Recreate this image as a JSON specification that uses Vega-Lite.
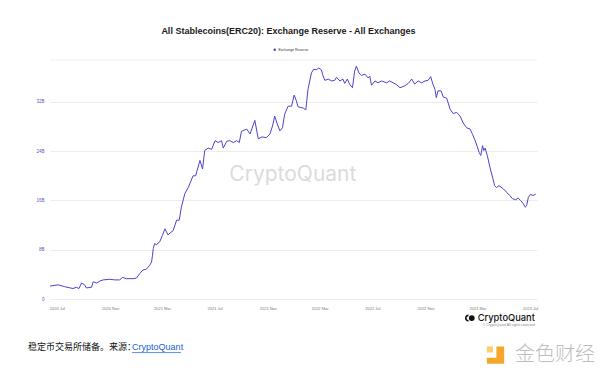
{
  "$schema": "https://vega.github.io/schema/vega-lite/v6.json",
  "autosize": "none",
  "width": 487,
  "height": 239,
  "padding": {"left": 50, "top": 60, "right": 63, "bottom": 81},
  "background": "white",
  "config": {"view": {"stroke": null}, "font": "Liberation Sans", "axisX": {"labelOverlap": false, "labelBound": false}},
  "title": {"text": "All Stablecoins(ERC20): Exchange Reserve - All Exchanges", "fontSize": 9, "fontWeight": "bold", "color": "#1a1a1a", "anchor": "middle", "offset": 12, "dx": -5},
  "datasets": {
    "one": [{"k": 1}],
    "series": [
      {"date": "2020-06-15", "v": 2.1}, {"date": "2020-07-04", "v": 2.3}, {"date": "2020-07-19", "v": 2.0},
      {"date": "2020-08-07", "v": 1.7}, {"date": "2020-08-15", "v": 1.9}, {"date": "2020-08-21", "v": 1.7},
      {"date": "2020-08-27", "v": 2.6}, {"date": "2020-09-03", "v": 2.3}, {"date": "2020-09-07", "v": 1.8},
      {"date": "2020-09-19", "v": 1.9}, {"date": "2020-09-23", "v": 2.8}, {"date": "2020-10-01", "v": 2.6},
      {"date": "2020-10-08", "v": 2.9}, {"date": "2020-10-16", "v": 3.1}, {"date": "2020-10-31", "v": 3.2},
      {"date": "2020-11-12", "v": 3.1}, {"date": "2020-11-23", "v": 3.1}, {"date": "2020-11-30", "v": 3.5},
      {"date": "2020-12-09", "v": 3.3}, {"date": "2020-12-24", "v": 3.3}, {"date": "2021-01-01", "v": 3.4},
      {"date": "2021-01-09", "v": 4.15}, {"date": "2021-01-16", "v": 4.7}, {"date": "2021-01-24", "v": 4.85},
      {"date": "2021-02-01", "v": 5.5}, {"date": "2021-02-05", "v": 6.0}, {"date": "2021-02-07", "v": 7.0},
      {"date": "2021-02-09", "v": 8.2}, {"date": "2021-02-12", "v": 9.0}, {"date": "2021-02-16", "v": 8.8},
      {"date": "2021-02-24", "v": 9.3}, {"date": "2021-03-02", "v": 10.3}, {"date": "2021-03-08", "v": 11.4},
      {"date": "2021-03-15", "v": 10.4}, {"date": "2021-03-23", "v": 10.9}, {"date": "2021-03-27", "v": 11.1},
      {"date": "2021-04-04", "v": 12.8}, {"date": "2021-04-10", "v": 12.8}, {"date": "2021-04-15", "v": 14.9},
      {"date": "2021-04-23", "v": 17.1}, {"date": "2021-05-01", "v": 18.1}, {"date": "2021-05-12", "v": 20.0},
      {"date": "2021-05-18", "v": 20.0}, {"date": "2021-05-28", "v": 22.5}, {"date": "2021-06-03", "v": 21.1},
      {"date": "2021-06-08", "v": 24.1}, {"date": "2021-06-16", "v": 24.5}, {"date": "2021-06-24", "v": 24.3},
      {"date": "2021-07-02", "v": 25.7}, {"date": "2021-07-09", "v": 25.4}, {"date": "2021-07-17", "v": 25.7},
      {"date": "2021-07-21", "v": 24.5}, {"date": "2021-07-29", "v": 25.6}, {"date": "2021-08-05", "v": 25.7},
      {"date": "2021-08-13", "v": 25.4}, {"date": "2021-08-21", "v": 25.7}, {"date": "2021-08-27", "v": 25.4},
      {"date": "2021-09-01", "v": 27.2}, {"date": "2021-09-13", "v": 27.6}, {"date": "2021-09-21", "v": 26.8},
      {"date": "2021-10-02", "v": 29.0}, {"date": "2021-10-10", "v": 26.0}, {"date": "2021-10-18", "v": 26.3},
      {"date": "2021-10-29", "v": 26.2}, {"date": "2021-11-06", "v": 26.8}, {"date": "2021-11-12", "v": 28.1},
      {"date": "2021-11-17", "v": 29.7}, {"date": "2021-11-23", "v": 28.4}, {"date": "2021-11-29", "v": 27.3},
      {"date": "2021-12-05", "v": 27.8}, {"date": "2021-12-10", "v": 30.0}, {"date": "2021-12-18", "v": 31.3},
      {"date": "2021-12-26", "v": 31.3}, {"date": "2022-01-01", "v": 33.1}, {"date": "2022-01-06", "v": 32.2},
      {"date": "2022-01-10", "v": 31.2}, {"date": "2022-01-22", "v": 31.0}, {"date": "2022-01-28", "v": 30.7},
      {"date": "2022-02-02", "v": 34.0}, {"date": "2022-02-10", "v": 36.7}, {"date": "2022-02-15", "v": 37.3},
      {"date": "2022-02-21", "v": 37.2}, {"date": "2022-02-27", "v": 37.5}, {"date": "2022-03-05", "v": 37.2},
      {"date": "2022-03-09", "v": 36.2}, {"date": "2022-03-13", "v": 35.5}, {"date": "2022-03-21", "v": 35.7},
      {"date": "2022-03-29", "v": 35.4}, {"date": "2022-04-05", "v": 35.5}, {"date": "2022-04-09", "v": 36.0},
      {"date": "2022-04-17", "v": 35.4}, {"date": "2022-04-24", "v": 35.7}, {"date": "2022-04-28", "v": 35.0},
      {"date": "2022-05-04", "v": 35.7}, {"date": "2022-05-10", "v": 34.8}, {"date": "2022-05-16", "v": 34.3},
      {"date": "2022-05-21", "v": 37.0}, {"date": "2022-05-25", "v": 37.8}, {"date": "2022-05-31", "v": 36.7},
      {"date": "2022-06-06", "v": 36.3}, {"date": "2022-06-14", "v": 36.5}, {"date": "2022-06-21", "v": 35.9},
      {"date": "2022-06-25", "v": 36.2}, {"date": "2022-06-29", "v": 34.7}, {"date": "2022-07-07", "v": 35.4},
      {"date": "2022-07-14", "v": 35.1}, {"date": "2022-07-22", "v": 35.4}, {"date": "2022-08-03", "v": 35.1},
      {"date": "2022-08-10", "v": 35.4}, {"date": "2022-08-18", "v": 35.1}, {"date": "2022-08-26", "v": 34.8},
      {"date": "2022-09-03", "v": 34.3}, {"date": "2022-09-14", "v": 34.6}, {"date": "2022-09-22", "v": 35.0},
      {"date": "2022-09-30", "v": 35.7}, {"date": "2022-10-07", "v": 34.9}, {"date": "2022-10-15", "v": 35.4},
      {"date": "2022-10-23", "v": 35.1}, {"date": "2022-10-31", "v": 35.4}, {"date": "2022-11-07", "v": 35.5},
      {"date": "2022-11-13", "v": 36.1}, {"date": "2022-11-18", "v": 34.9}, {"date": "2022-11-23", "v": 34.0},
      {"date": "2022-11-26", "v": 32.7}, {"date": "2022-11-30", "v": 33.8}, {"date": "2022-12-07", "v": 33.8},
      {"date": "2022-12-12", "v": 32.8}, {"date": "2022-12-20", "v": 32.6}, {"date": "2022-12-28", "v": 30.8},
      {"date": "2023-01-04", "v": 30.1}, {"date": "2023-01-12", "v": 30.3}, {"date": "2023-01-20", "v": 29.7},
      {"date": "2023-01-27", "v": 28.6}, {"date": "2023-02-04", "v": 27.8}, {"date": "2023-02-12", "v": 27.6},
      {"date": "2023-02-18", "v": 26.7}, {"date": "2023-02-24", "v": 25.7}, {"date": "2023-03-01", "v": 24.7},
      {"date": "2023-03-05", "v": 23.8}, {"date": "2023-03-09", "v": 23.3}, {"date": "2023-03-13", "v": 24.9},
      {"date": "2023-03-16", "v": 24.1}, {"date": "2023-03-19", "v": 24.5}, {"date": "2023-03-24", "v": 23.3},
      {"date": "2023-03-30", "v": 21.4}, {"date": "2023-04-05", "v": 19.8}, {"date": "2023-04-10", "v": 18.4},
      {"date": "2023-04-14", "v": 18.1}, {"date": "2023-04-20", "v": 18.4}, {"date": "2023-04-30", "v": 17.9},
      {"date": "2023-05-08", "v": 17.3}, {"date": "2023-05-15", "v": 16.8}, {"date": "2023-05-21", "v": 16.3},
      {"date": "2023-05-29", "v": 16.1}, {"date": "2023-06-03", "v": 16.4}, {"date": "2023-06-09", "v": 16.0},
      {"date": "2023-06-15", "v": 15.5}, {"date": "2023-06-20", "v": 14.9}, {"date": "2023-06-23", "v": 15.2},
      {"date": "2023-06-27", "v": 16.5}, {"date": "2023-07-02", "v": 17.0}, {"date": "2023-07-08", "v": 16.8},
      {"date": "2023-07-14", "v": 17.0}
    ]
  },
  "layer": [
    {
      "data": {"name": "series"},
      "mark": {"type": "line", "strokeWidth": 1, "interpolate": "linear"},
      "encoding": {
        "x": {
          "field": "date", "type": "temporal",
          "scale": {"type": "utc", "domain": [{"year": 2020, "month": 6, "date": 15, "utc": true}, {"year": 2023, "month": 7, "date": 17, "utc": true}]},
          "axis": {
            "title": null, "format": "%Y %b", "domain": false, "ticks": false, "grid": false, "labelOverlap": false,
            "labelFontSize": 4, "labelColor": "#777", "labelPadding": 7,
            "values": [
              {"year": 2020, "month": 7, "date": 1, "utc": true}, {"year": 2020, "month": 9, "date": 1, "utc": true},
              {"year": 2020, "month": 11, "date": 1, "utc": true}, {"year": 2021, "month": 1, "date": 1, "utc": true},
              {"year": 2021, "month": 3, "date": 1, "utc": true}, {"year": 2021, "month": 5, "date": 1, "utc": true},
              {"year": 2021, "month": 7, "date": 1, "utc": true}, {"year": 2021, "month": 9, "date": 1, "utc": true},
              {"year": 2021, "month": 11, "date": 1, "utc": true}, {"year": 2022, "month": 1, "date": 1, "utc": true},
              {"year": 2022, "month": 3, "date": 1, "utc": true}, {"year": 2022, "month": 5, "date": 1, "utc": true},
              {"year": 2022, "month": 7, "date": 1, "utc": true}, {"year": 2022, "month": 9, "date": 1, "utc": true},
              {"year": 2022, "month": 11, "date": 1, "utc": true}, {"year": 2023, "month": 1, "date": 1, "utc": true},
              {"year": 2023, "month": 3, "date": 1, "utc": true}, {"year": 2023, "month": 5, "date": 1, "utc": true},
              {"year": 2023, "month": 7, "date": 1, "utc": true}
            ]
          }
        },
        "y": {
          "field": "v", "type": "quantitative",
          "scale": {"domain": [0, 38.8], "nice": false, "zero": true},
          "axis": {
            "title": null, "values": [0, 8, 16, 24, 32], "domain": false, "ticks": false,
            "gridColor": "#ececec", "gridWidth": 1, "labelFontSize": 4.5, "labelColor": "#5b55c9", "labelPadding": 6,
            "labelExpr": "datum.value == 0 ? '0' : datum.value + 'B'"
          }
        },
        "color": {"datum": "Exchange Reserve", "scale": {"range": ["#4b44cc"]},
          "legend": {"title": null, "orient": "none", "legendX": 223, "legendY": -12, "symbolType": "circle", "symbolSize": 6, "labelFontSize": 3.5, "labelColor": "#333", "labelOffset": 2, "symbolStrokeWidth": 0, "symbolFillColor": "#4b44cc"}}
      }
    },
    {
      "data": {"name": "one"},
      "mark": {"type": "rule", "color": "#efefef", "strokeWidth": 1},
      "encoding": {"x": {"datum": {"year": 2020, "month": 6, "date": 15, "utc": true}, "type": "temporal", "axis": {"labelOverlap": false}}, "x2": {"datum": {"year": 2023, "month": 7, "date": 17, "utc": true}}, "y": {"datum": 38.8, "type": "quantitative"}}
    },
    {
      "data": {"name": "one"},
      "mark": {"type": "text", "text": "CryptoQuant", "font": "Inter", "fontSize": 21, "fontWeight": 400, "color": "#dcdcdc", "align": "center", "baseline": "middle"},
      "encoding": {"x": {"datum": {"year": 2021, "month": 12, "date": 29, "utc": true}, "type": "temporal", "axis": {"labelOverlap": false}}, "y": {"datum": 20.1, "type": "quantitative"}}
    },
    {
      "data": {"name": "one"},
      "mark": {"type": "text", "text": "CryptoQuant", "font": "Inter", "fontSize": 9.3, "fontWeight": 500, "color": "#111", "align": "right", "baseline": "middle", "clip": false},
      "encoding": {"x": {"datum": {"year": 2023, "month": 7, "date": 12, "utc": true}, "type": "temporal", "axis": {"labelOverlap": false}}, "y": {"datum": -3.1, "type": "quantitative"}}
    },
    {
      "data": {"name": "one"},
      "mark": {"type": "point", "shape": "circle", "filled": true, "size": 34, "color": "#111", "clip": false, "opacity": 1},
      "encoding": {"x": {"datum": {"year": 2023, "month": 2, "date": 16, "utc": true}, "type": "temporal", "axis": {"labelOverlap": false}}, "y": {"datum": -3.1, "type": "quantitative"}}
    },
    {
      "data": {"name": "one"},
      "mark": {"type": "point", "shape": "M0.3,-1A1,1 0 0 0 0.3,1L0.3,0.55A0.55,0.55 0 0 1 0.3,-0.55Z", "filled": true, "size": 50, "color": "#111", "clip": false, "opacity": 1},
      "encoding": {"x": {"datum": {"year": 2023, "month": 2, "date": 6, "utc": true}, "type": "temporal", "axis": {"labelOverlap": false}}, "y": {"datum": -3.1, "type": "quantitative"}}
    },
    {
      "data": {"name": "one"},
      "mark": {"type": "text", "text": "© CryptoQuant All rights reserved", "fontSize": 3.5, "color": "#888", "align": "right", "baseline": "middle", "clip": false},
      "encoding": {"x": {"datum": {"year": 2023, "month": 7, "date": 12, "utc": true}, "type": "temporal", "axis": {"labelOverlap": false}}, "y": {"datum": -4.3, "type": "quantitative"}}
    },
    {
      "data": {"name": "one"},
      "mark": {"type": "text", "text": "稳定币交易所储备。来源：", "font": "Noto Sans CJK SC", "fontSize": 9, "color": "#111", "align": "left", "baseline": "middle", "clip": false},
      "encoding": {"x": {"datum": {"year": 2020, "month": 4, "date": 25, "utc": true}, "type": "temporal", "axis": {"labelOverlap": false}}, "y": {"datum": -7.8, "type": "quantitative"}}
    },
    {
      "data": {"name": "one"},
      "mark": {"type": "text", "text": "CryptoQuant", "font": "Liberation Sans", "fontSize": 9, "color": "#1d5fd0", "align": "left", "baseline": "middle", "clip": false},
      "encoding": {"x": {"datum": {"year": 2020, "month": 12, "date": 22, "utc": true}, "type": "temporal", "axis": {"labelOverlap": false}}, "y": {"datum": -7.8, "type": "quantitative"}}
    },
    {
      "data": {"name": "one"},
      "mark": {"type": "rule", "color": "#1d5fd0", "strokeWidth": 0.7, "clip": false},
      "encoding": {"x": {"datum": {"year": 2020, "month": 12, "date": 22, "utc": true}, "type": "temporal", "axis": {"labelOverlap": false}}, "x2": {"datum": {"year": 2021, "month": 4, "date": 14, "utc": true}}, "y": {"datum": -8.7, "type": "quantitative"}}
    },
    {
      "data": {"name": "one"},
      "mark": {"type": "text", "text": "金色财经", "font": "Noto Sans CJK SC", "fontSize": 20, "fontWeight": 300, "color": "#bdbdbd", "align": "right", "baseline": "middle", "clip": false},
      "encoding": {"x": {"datum": {"year": 2023, "month": 11, "date": 28, "utc": true}, "type": "temporal", "axis": {"labelOverlap": false}}, "y": {"datum": -9.1, "type": "quantitative"}}
    },
    {
      "data": {"name": "one"},
      "mark": {"type": "point", "shape": "M0.1,-1L1,-1L1,1L-1,1L-1,0.3L0.1,0.3Z", "filled": true, "size": 300, "color": "#f3a82c", "clip": false, "opacity": 1},
      "encoding": {"x": {"datum": {"year": 2023, "month": 4, "date": 12, "utc": true}, "type": "temporal", "axis": {"labelOverlap": false}}, "y": {"datum": -9.1, "type": "quantitative"}}
    },
    {
      "data": {"name": "one"},
      "mark": {"type": "point", "shape": "M-1,-1L-0.3,-1L-0.3,-0.3L-1,-0.3Z", "filled": true, "size": 300, "color": "#f8cf6a", "clip": false, "opacity": 1},
      "encoding": {"x": {"datum": {"year": 2023, "month": 4, "date": 12, "utc": true}, "type": "temporal", "axis": {"labelOverlap": false}}, "y": {"datum": -9.1, "type": "quantitative"}}
    }
  ]
}
